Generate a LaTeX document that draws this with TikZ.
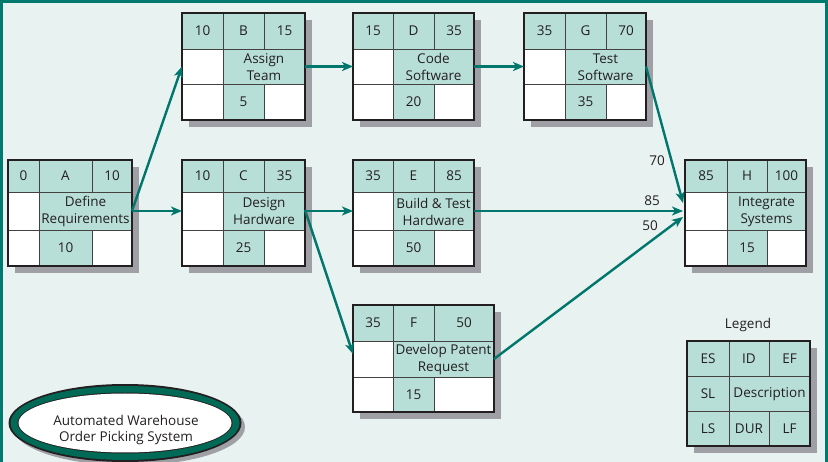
\documentclass[tikz,border=0pt]{standalone}
\usepackage{fontspec}
\setmainfont{Open Sans}
\usetikzlibrary{arrows.meta,calc}
\definecolor{bgc}{HTML}{E8F2F0}
\definecolor{cellc}{HTML}{B8DFD7}
\definecolor{shadowc}{HTML}{9FA0A6}
\definecolor{arrowc}{HTML}{00766C}
\definecolor{framec}{HTML}{00796E}
\definecolor{ringc}{HTML}{006A56}
\definecolor{inkc}{HTML}{231F20}
\newcommand\geom[8]{\def\xa{#1}\def\xb{#2}\def\xc{#3}\def\xd{#4}\def\ya{#5}\def\yb{#6}\def\yc{#7}\def\yd{#8}}
\newcommand\actbox[7]{%
  \fill[shadowc] (\xa+7,\ya+7) rectangle (\xd+7,\yd+7);
  \fill[#7] (\xa,\ya) rectangle (\xd,\yd);
  \fill[cellc] (\xa,\ya) rectangle (\xd,\yb);
  \fill[cellc] (\xb,\yb) rectangle (\xd,\yc);
  \fill[cellc] (\xb,\yc) rectangle (\xc,\yd);
  \draw[divider] (\xb,\ya) -- (\xb,\yd) (\xc,\ya) -- (\xc,\yb) (\xc,\yc) -- (\xc,\yd)
    (\xa,\yb) -- (\xd,\yb) (\xa,\yc) -- (\xd,\yc);
  \node[boxframe, minimum width={(\xd-\xa)*1pt}, minimum height={(\yd-\ya)*1pt}, anchor=north west] (#1) at (\xa,\ya) {};
  \node[celltxt] (#1-es) at ({(\xa+\xb)/2},{(\ya+\yb)/2}) {#2};
  \node[celltxt] (#1-id) at ({(\xb+\xc)/2},{(\ya+\yb)/2}) {#3};
  \node[celltxt] (#1-ef) at ({(\xc+\xd)/2},{(\ya+\yb)/2}) {#4};
  \node[celltxt, align=center] (#1-desc) at ({(\xb+\xd)/2},{(\yb+\yc)/2+0.5}) {#5};
  \node[celltxt] (#1-dur) at ({(\xb+\xc)/2},{(\yc+\yd)/2}) {#6};
  \coordinate (#1-in) at (\xa,{(\yb+\yc)/2});
  \coordinate (#1-out) at (\xd,{(\yb+\yc)/2});
}
\tikzset{
  divider/.style={draw=inkc!85, line width=0.9pt},
  boxframe/.style={draw=inkc, line width=2pt, inner sep=0pt, outer sep=0pt},
  celltxt/.style={inner sep=0pt, text=inkc},
  flow/.style={draw=arrowc, line width=2.4pt, -{Stealth[length=11pt,width=9pt,inset=3pt]}},
  lbl/.style={inner sep=0pt, text=inkc},
}
\begin{document}
\begin{tikzpicture}[x=1pt,y=-1pt, font=\fontsize{13.5}{17}\selectfont]
\useasboundingbox (0,0) rectangle (828,462);
\fill[bgc] (0,0) rectangle (828,462);
\draw[framec, line width=3pt] (1.5,462) -- (1.5,1.5) -- (826.5,1.5) -- (826.5,462);

\geom{8}{39}{92}{132}{160}{192}{230}{266}
\actbox{A}{0}{A}{10}{Define\\Requirements}{10}{white}
\geom{182}{223}{264}{305}{13}{49}{84}{120}
\actbox{B}{10}{B}{15}{Assign\\Team}{5}{white}
\geom{353}{393}{434}{474}{13}{49}{84}{120}
\actbox{D}{15}{D}{35}{Code\\Software}{20}{white}
\geom{524}{565}{606}{646}{13}{49}{84}{120}
\actbox{G}{35}{G}{70}{Test\\Software}{35}{white}
\geom{182}{223}{264}{305}{160}{192}{230}{266}
\actbox{C}{10}{C}{35}{Design\\Hardware}{25}{white}
\geom{353}{393}{434}{474}{160}{192}{230}{266}
\actbox{E}{35}{E}{85}{Build \& Test\\Hardware}{50}{white}
\geom{685}{727}{767}{806}{160}{192}{230}{266}
\actbox{H}{85}{H}{100}{Integrate\\Systems}{15}{white}
\geom{353}{393}{434}{494}{305}{341}{377}{412}
\actbox{F}{35}{F}{50}{Develop Patent\\Request}{15}{white}
\geom{687}{729}{769}{810}{341}{376}{411}{446}
\actbox{L}{ES}{ID}{EF}{Description}{DUR}{cellc}
\node[celltxt] (L-sl) at ({(\xa+\xb)/2},{(\yb+\yc)/2}) {SL};
\node[celltxt] (L-ls) at ({(\xa+\xb)/2},{(\yc+\yd)/2}) {LS};
\node[celltxt] (L-lf) at ({(\xc+\xd)/2},{(\yc+\yd)/2}) {LF};
\node[lbl] (legend) at (748,325) {Legend};

% connectors
\draw[flow] (A-out) -- (B-in);
\draw[flow] (A-out) -- (C-in);
\draw[flow] (B-out) -- (D-in);
\draw[flow] (D-out) -- (G-in);
\draw[flow] (C-out) -- (E-in);
\draw[flow] ($(C-out)+(0,-1)$) -- ($(F-in)+(0,-5)$);
\draw[flow] (G-out) -- ($(H-in)+(-2,-8)$);
\draw[flow] (E-out) -- ($(H-in)+(-2,0)$);
\draw[flow] (F-out) -- ($(H-in)+(-2,6)$);
\node[lbl] (l70) at (657,161) {70};
\node[lbl] (l85) at (652,201) {85};
\node[lbl] (l50) at (650,226) {50};

% title ellipse
\fill[shadowc] (129,427) ellipse [x radius=116, y radius=38.5];
\fill[inkc] (125,423) ellipse [x radius=116.5, y radius=39];
\fill[ringc] (125,423) ellipse [x radius=114.5, y radius=37];
\fill[inkc] (125,423) ellipse [x radius=107.5, y radius=30.5];
\fill[white] (125,423) ellipse [x radius=106.5, y radius=29.5];
\node[lbl, align=center, font=\fontsize{13.5}{16}\selectfont] (title) at (126,430) {Automated Warehouse\\Order Picking System};
\end{tikzpicture}
\end{document}
